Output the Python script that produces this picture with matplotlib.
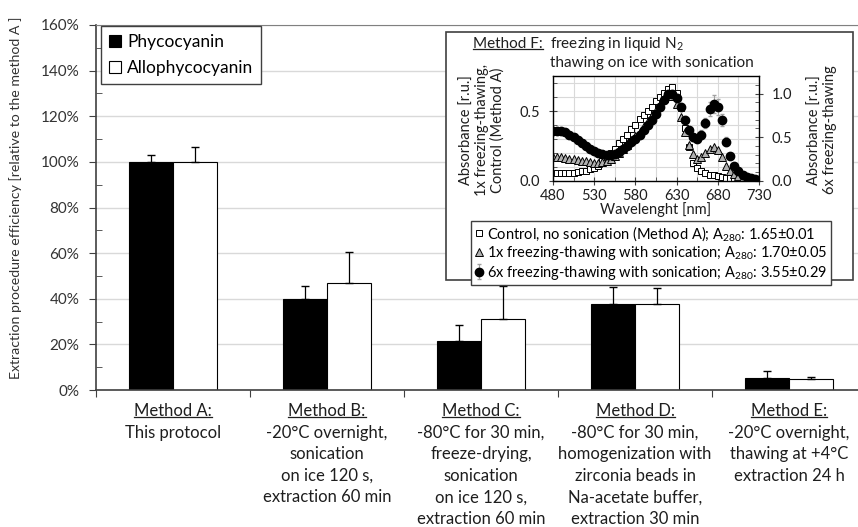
import matplotlib

matplotlib.use("Agg")
import matplotlib.pyplot as plt
import matplotlib.transforms as mtransforms
import numpy as np
from matplotlib.lines import Line2D
from matplotlib.patches import Rectangle

plt.rcParams["font.family"] = ["Lato", "DejaVu Sans"]
plt.rcParams["mathtext.default"] = "regular"

# ---------------------------------------------------------------------------
# Data
# ---------------------------------------------------------------------------

methods = ["Method A:", "Method B:", "Method C:", "Method D:", "Method E:"]
method_notes = [
    ["This protocol"],
    ["-20°C overnight,", "sonication", "on ice 120 s,", "extraction 60 min"],
    ["-80°C for 30 min,", "freeze-drying,", "sonication", "on ice 120 s,",
     "extraction 60 min"],
    ["-80°C for 30 min,", "homogenization with", "zirconia beads in",
     "Na-acetate buffer,", "extraction 30 min"],
    ["-20°C overnight,", "thawing at +4°C", "extraction 24 h"],
]

phycocyanin = [100, 39.9, 21.6, 37.6, 5.4]
phycocyanin_err = [3.0, 5.8, 7.0, 7.7, 2.9]
allophycocyanin = [100, 47.1, 31.1, 37.6, 4.7]
allophycocyanin_err = [6.5, 13.6, 14.5, 7.0, 1.1]

# inset: absorbance spectra, 480-730 nm every 5 nm
wavelength = np.arange(480, 731, 5)
abs_control = [0.06, 0.06, 0.06, 0.06, 0.06, 0.06, 0.065, 0.07, 0.075, 0.085,
               0.095, 0.11, 0.14, 0.17, 0.20, 0.23, 0.27, 0.30, 0.33, 0.37,
               0.40, 0.44, 0.47, 0.50, 0.53, 0.57, 0.60, 0.63, 0.66, 0.67,
               0.63, 0.52, 0.38, 0.24, 0.13, 0.09, 0.07, 0.055, 0.045, 0.04,
               0.035, 0.03, 0.025, 0.02, 0.02, 0.015, 0.01, 0.008, 0.005, 0.003,
               0.0]
abs_1x = [0.17, 0.17, 0.17, 0.165, 0.16, 0.155, 0.15, 0.145, 0.14, 0.135,
          0.13, 0.13, 0.135, 0.145, 0.16, 0.18, 0.20, 0.23, 0.26, 0.29,
          0.32, 0.35, 0.39, 0.43, 0.47, 0.51, 0.55, 0.59, 0.62, 0.61,
          0.55, 0.46, 0.35, 0.26, 0.19, 0.16, 0.17, 0.20, 0.23, 0.24,
          0.22, 0.17, 0.11, 0.07, 0.05, 0.035, 0.025, 0.015, 0.01, 0.005,
          0.0]
abs_6x = [0.57, 0.57, 0.57, 0.56, 0.53, 0.50, 0.47, 0.43, 0.40, 0.37,
          0.34, 0.32, 0.31, 0.30, 0.30, 0.31, 0.33, 0.36, 0.40, 0.44,
          0.48, 0.53, 0.58, 0.64, 0.70, 0.77, 0.85, 0.93, 0.99, 1.00,
          0.95, 0.85, 0.70, 0.58, 0.50, 0.48, 0.53, 0.66, 0.82, 0.88,
          0.85, 0.70, 0.45, 0.28, 0.17, 0.11, 0.07, 0.05, 0.03, 0.02,
          0.01]
abs_6x_err = [0.03, 0.03, 0.03, 0.03, 0.03, 0.03, 0.02, 0.02, 0.02, 0.02,
              0.02, 0.02, 0.02, 0.02, 0.02, 0.02, 0.02, 0.02, 0.02, 0.02,
              0.02, 0.02, 0.02, 0.02, 0.02, 0.02, 0.03, 0.03, 0.04, 0.04,
              0.04, 0.04, 0.04, 0.04, 0.04, 0.04, 0.05, 0.06, 0.08, 0.10,
              0.09, 0.07, 0.05, 0.03, 0.02, 0.02, 0.01, 0.01, 0.01, 0.01,
              0.01]

legend_labels = [
    "Control, no sonication (Method A); A$_{280}$: 1.65±0.01",
    "1x freezing-thawing with sonication; A$_{280}$: 1.70±0.05",
    "6x freezing-thawing with sonication; A$_{280}$: 3.55±0.29",
]

# ---------------------------------------------------------------------------
# Figure
# ---------------------------------------------------------------------------

W, H = 858, 527
TXT = "#1e1e1e"
fig = plt.figure(figsize=(W / 100, H / 100), dpi=100)


def fx(px):
    return px / W


def fy(py):
    return 1 - py / H


ax = fig.add_axes([fx(96), fy(390), 5 * 154 / W, (390 - 25) / H])

x = np.arange(len(methods))
bw = 0.286
ax.bar(x - bw / 2, phycocyanin, bw, color="black", edgecolor="black",
       linewidth=0.8, label="Phycocyanin", zorder=2)
ax.bar(x + bw / 2, allophycocyanin, bw, color="white", edgecolor="black",
       linewidth=0.8, label="Allophycocyanin", zorder=2)
ax.errorbar(x - bw / 2, phycocyanin, yerr=[np.zeros(5), phycocyanin_err],
            fmt="none", ecolor="black", elinewidth=0.9, capsize=3, zorder=3)
ax.errorbar(x + bw / 2, allophycocyanin, yerr=[np.zeros(5), allophycocyanin_err],
            fmt="none", ecolor="black", elinewidth=0.9, capsize=3, zorder=3)

ax.set_xlim(-0.5, 4.5)
ax.set_ylim(0, 160)
ax.set_yticks(np.arange(0, 161, 20))
ax.set_yticklabels([f"{v}%" for v in range(0, 161, 20)])
ax.set_yticks(np.arange(10, 160, 20), minor=True)
ax.tick_params(axis="y", which="major", direction="out", length=5,
               labelsize=11, colors="#404040", labelcolor="#333333", pad=7)
ax.tick_params(axis="y", which="minor", direction="in", length=4,
               color="#404040")
ax.set_xticks(np.arange(-0.5, 4.6, 1))
ax.set_xticklabels([])
ax.tick_params(axis="x", direction="out", length=5, color="#404040")
ax.grid(axis="y", color="#d9d9d9", linewidth=1)
ax.set_axisbelow(True)
for side in ["left", "bottom"]:
    ax.spines[side].set_color("#404040")
    ax.spines[side].set_linewidth(1.2)
ax.spines["top"].set_color("#808080")
ax.spines["right"].set_visible(False)
ax.set_ylabel("Extraction procedure efficiency [relative to the method A ]",
              fontsize=10.2, color="#333333")
ax.yaxis.set_label_coords((22 - 96) / 770, (390 - 198) / 365)

ax.legend(loc="upper left", bbox_to_anchor=(fx(101), fy(26)),
          bbox_transform=fig.transFigure, borderaxespad=0, fancybox=False,
          edgecolor="#404040", fontsize=12.5, handlelength=0.7, handleheight=0.7,
          handletextpad=0.35, borderpad=0.45, labelspacing=0.6, framealpha=1)

# category labels below the axis
blend = mtransforms.blended_transform_factory(ax.transData, fig.transFigure)
heads = []
for i, (m, notes) in enumerate(zip(methods, method_notes)):
    t = ax.text(i, fy(411), m, transform=blend, ha="center", va="center",
                fontsize=12, color=TXT)
    heads.append(t)
    for j, line in enumerate(notes):
        ax.text(i, fy(411 + 21.6 * (j + 1)), line, transform=blend,
                ha="center", va="center", fontsize=12, color=TXT)

# ---------------------------------------------------------------------------
# Inset (Method F)
# ---------------------------------------------------------------------------

box = Rectangle((fx(446), fy(280)), (853 - 446) / W, (280 - 32) / H,
                transform=fig.transFigure, facecolor="white",
                edgecolor="#404040", linewidth=1.2, zorder=2)
fig.add_artist(box)

ax_in = fig.add_axes([fx(553), fy(181), (759 - 553) / W, (181 - 76) / H])
ax_in.set_zorder(3)
ax_in.plot(wavelength, abs_control, ls="none", marker="s", ms=5,
           mfc="white", mec="black", mew=0.7, label=legend_labels[0])
ax_in.plot(wavelength, abs_1x, ls="none", marker="^", ms=5.5,
           mfc="#b0b0b0", mec="black", mew=0.7, label=legend_labels[1])
ax_in.set_xlim(480, 730)
ax_in.set_ylim(0, 0.75)
ax_in.set_xticks(np.arange(480, 731, 50))
ax_in.set_xticks(np.arange(480, 731, 25), minor=True)
ax_in.set_yticks([0.0, 0.5])
ax_in.set_yticklabels(["0.0", "0.5"])
ax_in.set_yticks(np.arange(0.1, 0.75, 0.1), minor=True)
ax_in.grid(which="both", color="#d9d9d9", linewidth=0.8)
ax_in.set_axisbelow(True)
ax_in.tick_params(which="major", direction="inout", length=6, labelsize=10.5,
                  colors="#404040", labelcolor=TXT, pad=6)
ax_in.tick_params(axis="x", which="major", pad=3)
ax_in.tick_params(which="minor", direction="in", length=3, color="#404040")
ax_in.set_xlabel("Wavelenght [nm]", fontsize=10.5, color=TXT, labelpad=-1)
for s in ax_in.spines.values():
    s.set_color("#404040")
    s.set_linewidth(1.0)

ax_in2 = ax_in.twinx()
ax_in2.set_zorder(4)
ax_in2.errorbar(wavelength, abs_6x, yerr=abs_6x_err, fmt="o", ms=6,
                mfc="black", mec="black", ecolor="#a0a0a0", elinewidth=0.8,
                capsize=1.5, label=legend_labels[2])
ax_in2.set_ylim(0, 1.2)
ax_in2.set_yticks([0.0, 0.5, 1.0])
ax_in2.set_yticklabels(["0.0", "0.5", "1.0"])
ax_in2.set_yticks(np.arange(0.1, 1.2, 0.1), minor=True)
ax_in2.tick_params(which="major", direction="inout", length=6, labelsize=10.5,
                   colors="#404040", labelcolor=TXT, pad=6)
ax_in2.tick_params(which="minor", direction="in", length=3, color="#404040")

fig.text(fx(482), fy(130), "Absorbance [r.u.]\n1x freezing-thawing,\nControl (Method A)",
         rotation=90, ha="center", va="center", fontsize=10.5, color=TXT,
         linespacing=1.1, multialignment="center", zorder=5)
fig.text(fx(822), fy(130), "Absorbance [r.u.]\n6x freezing-thawing",
         rotation=90, ha="center", va="center", fontsize=10.5, color=TXT,
         linespacing=1.1, multialignment="center", zorder=5)

head_f = fig.text(fx(543), fy(44), "Method F:", ha="right", va="center",
                  fontsize=11, color=TXT, zorder=5)
heads.append(head_f)
fig.text(fx(550), fy(44), "freezing in liquid N$_2$", ha="left", va="center",
         fontsize=11, color=TXT, zorder=5)
fig.text(fx(550), fy(63), "thawing on ice with sonication", ha="left",
         va="center", fontsize=11, color=TXT, zorder=5)

h1, l1 = ax_in.get_legend_handles_labels()
h2, l2 = ax_in2.get_legend_handles_labels()
fig.legend(h1 + h2, l1 + l2, loc="upper center",
           bbox_to_anchor=(fx(651), fy(221)), fancybox=False,
           edgecolor="#404040", fontsize=10.5, handlelength=0.6,
           handletextpad=0.3, borderpad=0.2, labelspacing=0.1,
           framealpha=1, borderaxespad=0)

# underline the "Method X:" headings
fig.canvas.draw()
renderer = fig.canvas.get_renderer()
for t in heads:
    bb = t.get_window_extent(renderer)
    yy = bb.y0 + 2.5
    fig.add_artist(Line2D([bb.x0, bb.x1], [yy, yy],
                          transform=mtransforms.IdentityTransform(),
                          color=TXT, linewidth=0.9, zorder=6))

fig.savefig("out.png", dpi=100)
